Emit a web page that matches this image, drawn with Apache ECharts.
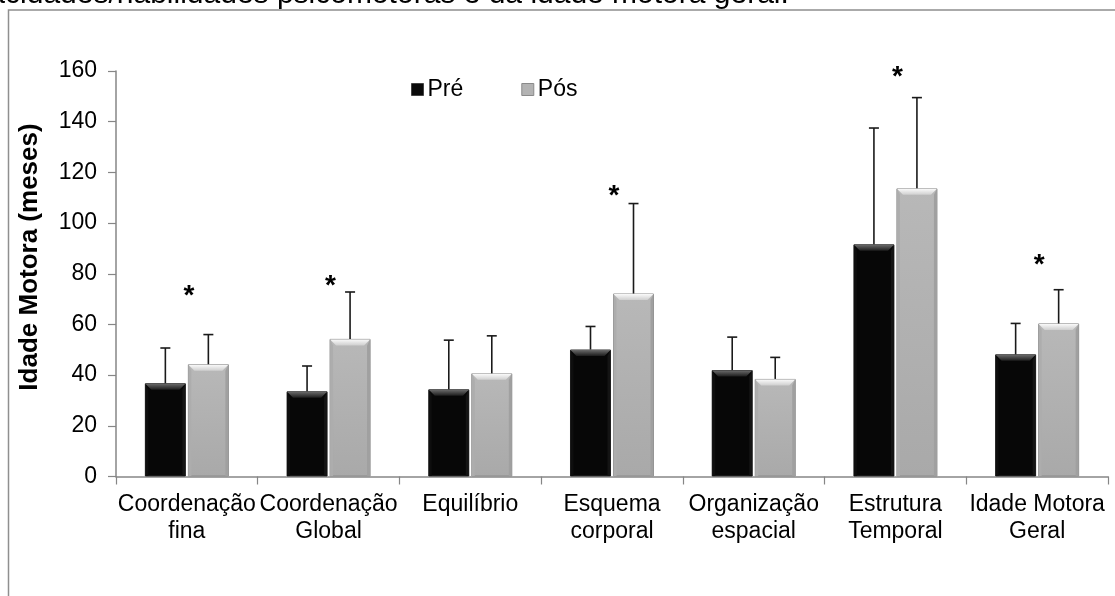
<!DOCTYPE html>
<html>
<head>
<meta charset="utf-8">
<script src="https://cdn.jsdelivr.net/npm/echarts@6/dist/echarts.min.js"></script>
<style>
html,body{margin:0;padding:0;background:#fff;}
#chart{width:1115px;height:596px;}
</style>
</head>
<body>
<div id="chart"></div>
<script>
// ---- data ----
const categories = ['Coordenação\nfina', 'Coordenação\nGlobal', 'Equilíbrio', 'Esquema\ncorporal', 'Organização\nespacial', 'Estrutura\nTemporal', 'Idade Motora\nGeral'];
const preValues = [36.8, 33.6, 34.4, 50.1, 42.0, 91.6, 48.2];
const preSD     = [13.9, 10.0, 19.4,  9.1, 13.0, 45.9, 12.2];
const posValues = [44.3, 54.3, 40.7, 72.2, 38.5, 113.7, 60.4];
const posSD     = [11.7, 18.5, 14.8, 35.5,  8.5, 35.8, 13.3];
const starValues = [73.5, 77.3, null, 113, null, 160, 85.7];
const seriesNames = ['Pré', 'Pós'];
const yMin = 0, yMax = 160, yStep = 20;
const yTitle = 'Idade Motora (meses)';
const caption = 'capacidades/habilidades psicomotoras e da idade motora geral.';

// ---- styles ----
const FONT = '"Liberation Sans", Arial, sans-serif';
const BAR_W = 41, BAR_GAP = 2;
const HALF = (BAR_W + BAR_GAP) / 2;

const chart = echarts.init(document.getElementById('chart'), null, {renderer: 'canvas'});

function bevel(offset, dark) {
  return function (params, api) {
    const idx = api.value(0), v = api.value(1);
    const base = api.coord([idx, 0]);
    const top = api.coord([idx, v]);
    const cx = base[0] + offset;
    const x0 = cx - BAR_W / 2 + 0.5, x1 = cx + BAR_W / 2 - 0.5;
    const y0 = top[1] + 0.5, y1 = base[1] - 0.5;
    const b = Math.min(6, (y1 - y0) / 2);
    const s = 3;
    const topCol = dark
      ? new echarts.graphic.LinearGradient(0, 0, 0, 1, [{offset: 0, color: '#6a6a6a'}, {offset: 1, color: '#1c1c1c'}])
      : new echarts.graphic.LinearGradient(0, 0, 0, 1, [{offset: 0, color: '#fafafa'}, {offset: 1, color: '#cfcfcf'}]);
    const rightCol = dark ? '#141414' : '#a0a0a0';
    const leftCol = dark ? '#0e0e0e' : '#adadad';
    return {
      type: 'group',
      silent: true,
      children: [
        {type: 'polygon', shape: {points: [[x1, y0], [x1, y1], [x1 - s, y1], [x1 - s, y0 + b]]}, style: {fill: rightCol}},
        {type: 'polygon', shape: {points: [[x0, y0], [x0 + s, y0 + b], [x0 + s, y1], [x0, y1]]}, style: {fill: leftCol}},
        {type: 'polygon', shape: {points: [[x0, y0], [x1, y0], [x1 - b, y0 + b], [x0 + b, y0 + b]]}, style: {fill: topCol}}
      ]
    };
  };
}

function errorBar(offset) {
  return function (params, api) {
    const idx = api.value(0), v = api.value(1), sd = api.value(2);
    const base = api.coord([idx, v]);
    const top = api.coord([idx, v + sd]);
    const cx = base[0] + offset;
    const st = {stroke: '#1a1a1a', lineWidth: 1.6};
    return {
      type: 'group',
      silent: true,
      children: [
        {type: 'line', shape: {x1: cx, y1: base[1], x2: cx, y2: top[1]}, style: st},
        {type: 'line', shape: {x1: cx - 5, y1: top[1], x2: cx + 5, y2: top[1]}, style: st}
      ]
    };
  };
}

function starItem(params, api) {
  const idx = api.value(0), v = api.value(1);
  const p = api.coord([idx, v]);
  return {
    type: 'text',
    x: p[0] + 2,
    y: p[1] + 6,
    silent: true,
    style: {text: '*', font: 'bold 28px ' + FONT, fill: '#000', align: 'center', verticalAlign: 'middle'}
  };
}

const preData = preValues.map((v, i) => [i, v, preSD[i]]);
const posData = posValues.map((v, i) => [i, v, posSD[i]]);
const starData = [];
starValues.forEach((v, i) => { if (v != null) starData.push([i, v]); });

const option = {
  backgroundColor: '#fff',
  animation: false,
  graphic: [
    {type: 'rect', shape: {x: 8.5, y: 10, width: 1300, height: 800}, style: {fill: 'none', stroke: '#8f8f8f', lineWidth: 1.5}, z: -10},
    {type: 'text', x: -60, y: -5, style: {text: caption, font: '30px ' + FONT, fill: '#000', verticalAlign: 'middle'}},
    {type: 'text', x: 30, y: 257, rotation: Math.PI / 2,
     style: {text: yTitle, font: 'bold 26px ' + FONT, fill: '#000', align: 'center', verticalAlign: 'middle'}}
  ],
  legend: {
    data: [
      {name: 'Pré', itemStyle: {color: '#0a0a0a', borderColor: '#444', borderWidth: 1}},
      {name: 'Pós', itemStyle: {color: '#b3b3b3', borderColor: '#8a8a8a', borderWidth: 1}}
    ],
    left: 406,
    top: 73,
    icon: 'rect',
    itemWidth: 12,
    itemHeight: 12,
    itemGap: 58,
    textStyle: {fontFamily: FONT, fontSize: 23, color: '#000', padding: [0, 0, 0, -1]}
  },
  grid: {left: 116, right: 7, top: 71, bottom: 119.5, containLabel: false},
  xAxis: {
    type: 'category',
    data: categories,
    boundaryGap: true,
    axisLine: {lineStyle: {color: '#868686', width: 1.5}},
    axisTick: {show: true, alignWithLabel: false, length: 8, lineStyle: {color: '#868686', width: 1.2}},
    axisLabel: {interval: 0, fontFamily: FONT, fontSize: 23, color: '#000', margin: 15, lineHeight: 27}
  },
  yAxis: {
    type: 'value',
    min: yMin,
    max: yMax,
    interval: yStep,
    axisLine: {show: true, lineStyle: {color: '#868686', width: 1.5}},
    axisTick: {show: true, length: 8, lineStyle: {color: '#868686', width: 1.2}},
    axisLabel: {fontFamily: FONT, fontSize: 23, color: '#000', margin: 19},
    splitLine: {show: false}
  },
  series: [
    {
      name: 'Pré', type: 'bar', data: preValues, barWidth: BAR_W, barGap: (BAR_GAP / BAR_W * 100).toFixed(1) + '%',
      itemStyle: {color: '#070707', borderColor: '#2a2a2a', borderWidth: 1}
    },
    {
      name: 'Pós', type: 'bar', data: posValues, barWidth: BAR_W,
      itemStyle: {
        color: new echarts.graphic.LinearGradient(0, 0, 0, 1, [{offset: 0, color: '#b8b8b8'}, {offset: 1, color: '#a9a9a9'}]),
        borderColor: '#8a8a8a', borderWidth: 1
      }
    },
    {type: 'custom', name: 'bevelPre', data: preData, encode: {x: 0, y: 1}, renderItem: bevel(-HALF, true), z: 3, silent: true},
    {type: 'custom', name: 'bevelPos', data: posData, encode: {x: 0, y: 1}, renderItem: bevel(HALF, false), z: 3, silent: true},
    {type: 'custom', name: 'errPre', data: preData, encode: {x: 0, y: 1}, renderItem: errorBar(-HALF), z: 4, silent: true},
    {type: 'custom', name: 'errPos', data: posData, encode: {x: 0, y: 1}, renderItem: errorBar(HALF), z: 4, silent: true},
    {type: 'custom', name: 'stars', data: starData, encode: {x: 0, y: 1}, renderItem: starItem, z: 5, silent: true}
  ]
};
chart.setOption(option);
</script>
</body>
</html>
